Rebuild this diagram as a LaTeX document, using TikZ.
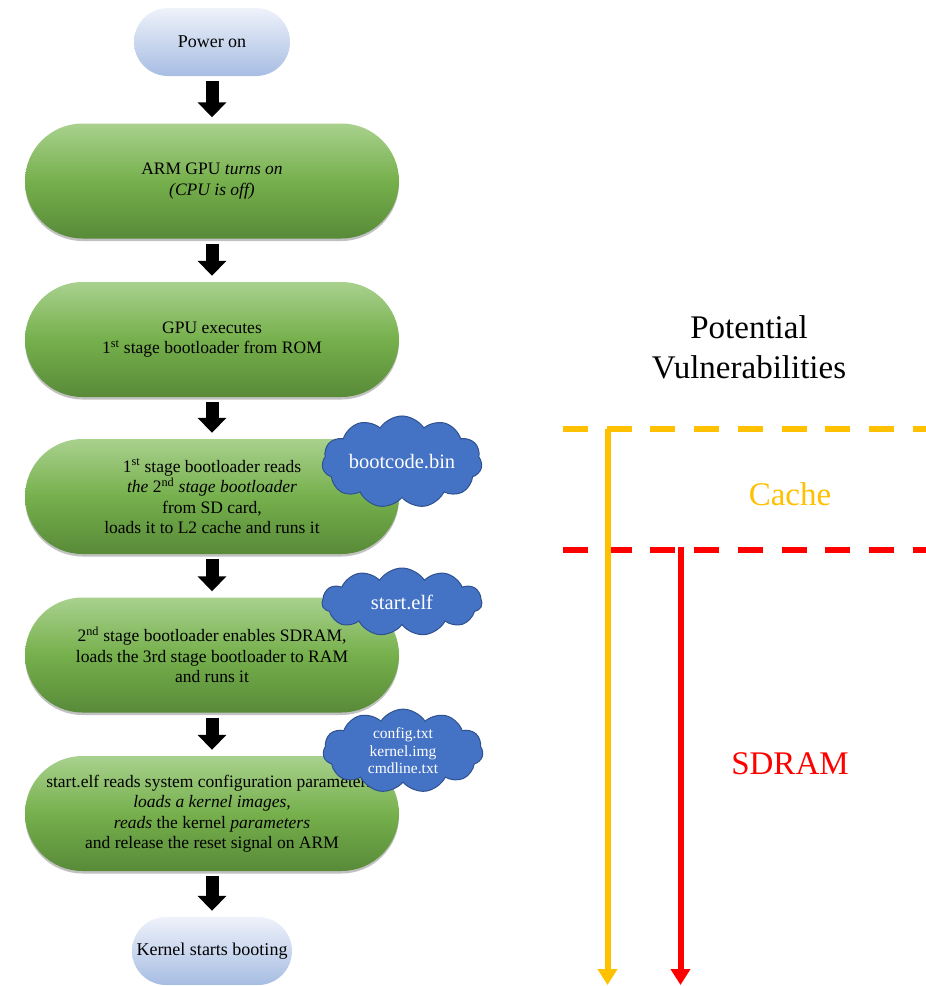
\documentclass[tikz,border=0pt]{standalone}
\usepackage{fontspec}
\setmainfont{Liberation Serif}
\usetikzlibrary{shapes.misc,shapes.symbols,arrows.meta,shadows}
\definecolor{gtop}{HTML}{A9D18E}
\definecolor{gmid}{HTML}{76B04C}
\definecolor{gbot}{HTML}{588A38}
\definecolor{btop}{HTML}{EEF2FA}
\definecolor{bbot}{HTML}{A7BDE3}
\definecolor{cloudfill}{HTML}{4472C4}
\definecolor{cloudline}{HTML}{2F528F}
\definecolor{cacheor}{HTML}{FFC000}
\definecolor{sdred}{HTML}{FF0000}
\begin{document}
\begin{tikzpicture}[x=1pt,y=-1pt,
  greenbox/.style={rounded rectangle, minimum width=374pt, minimum height=115pt, inner sep=0pt,
    top color=gtop, bottom color=gbot, middle color=gmid, align=center,
    font=\fontsize{17.5}{20.5}\selectfont,
    drop shadow={shadow xshift=0pt, shadow yshift=-2.5pt, opacity=0.35, fill=black!70}},
  bluebox/.style={rounded rectangle, minimum height=68pt, inner sep=0pt,
    top color=btop, bottom color=bbot, align=center,
    font=\fontsize{18}{21}\selectfont},
  filecloud/.style={cloud, cloud puffs=11, cloud puff arc=115, aspect=2.1,
    minimum width=160pt, minimum height=68pt, inner sep=0pt,
    fill=cloudfill, draw=cloudline, line width=1pt, text=white, align=center},
  blockarrow/.style={line width=13pt, -{Triangle[width=28pt,length=15pt]},
    shorten <=5pt, shorten >=6pt},
  levelline/.style={line width=6pt, dash pattern=on 25pt off 18.7pt},
  levelarrow/.style={line width=6pt, -{Triangle[width=19pt,length=16pt]}},
  bigtext/.style={font=\fontsize{33}{40}\selectfont, align=center}
]
\useasboundingbox (0,0) rectangle (926,986);

% flow
\node[bluebox, minimum width=156pt] (pw) at (212,42) {Power on};
\node[greenbox] (b1) at (212,181) {ARM GPU \textit{turns on}\\\textit{(CPU is off)}};
\node[greenbox] (b2) at (212,339.5) {GPU executes\\1\textsuperscript{st} stage bootloader from ROM};
\node[greenbox] (b3) at (212,496.5) {1\textsuperscript{st} stage bootloader reads\\\textit{the} 2\textsuperscript{nd} \textit{stage bootloader}\\from SD card,\\loads it to L2 cache and runs it};
\node[greenbox] (b4) at (212,655) {2\textsuperscript{nd} stage bootloader enables SDRAM,\\loads the 3rd stage bootloader to RAM\\and runs it};
\node[greenbox] (b5) at (212,813.5) {start.elf reads system configuration parameters,\\\textit{loads a kernel images,}\\\textit{reads} the kernel \textit{parameters}\\and release the reset signal on ARM};
\node[bluebox, minimum width=160pt] (kb) at (212,951) {Kernel starts booting};

\draw[blockarrow] (pw.south) -- (b1.north);
\draw[blockarrow] (b1.south) -- (b2.north);
\draw[blockarrow] (b2.south) -- (b3.north);
\draw[blockarrow] (b3.south) -- (b4.north);
\draw[blockarrow] (b4.south) -- (b5.north);
\draw[blockarrow] (b5.south) -- (kb.north);

% file clouds
\node[filecloud, font=\fontsize{20.5}{22}\selectfont] (c1) at (402,462) {bootcode.bin};
\node[filecloud, font=\fontsize{20.5}{22}\selectfont] (c2) at (402,602) {start.elf};
\node[filecloud, minimum height=74pt, font=\fontsize{15.5}{17.5}\selectfont] (c3) at (403,751) {config.txt\\kernel.img\\cmdline.txt};

% vulnerabilities
\node[bigtext] (pv) at (749,347) {Potential\\Vulnerabilities};
\node[bigtext, text=cacheor] (cache) at (790,494) {Cache};
\node[bigtext, text=sdred] (sdram) at (790,764) {SDRAM};

\coordinate (oL) at (563,429);
\coordinate (oR) at (926,429);
\coordinate (rL) at (563,550);
\coordinate (rR) at (926,550);
\coordinate (oT) at (607.5,429);
\coordinate (oB) at (607.5,985);
\coordinate (rT) at (680.5,547);
\coordinate (rB) at (680.5,985);

\draw[levelline, cacheor] (oL) -- (oR);
\draw[levelline, sdred] (rL) -- (rR);
\draw[levelarrow, cacheor] (oT) -- (oB);
\draw[levelarrow, sdred] (rT) -- (rB);
\end{tikzpicture}
\end{document}
